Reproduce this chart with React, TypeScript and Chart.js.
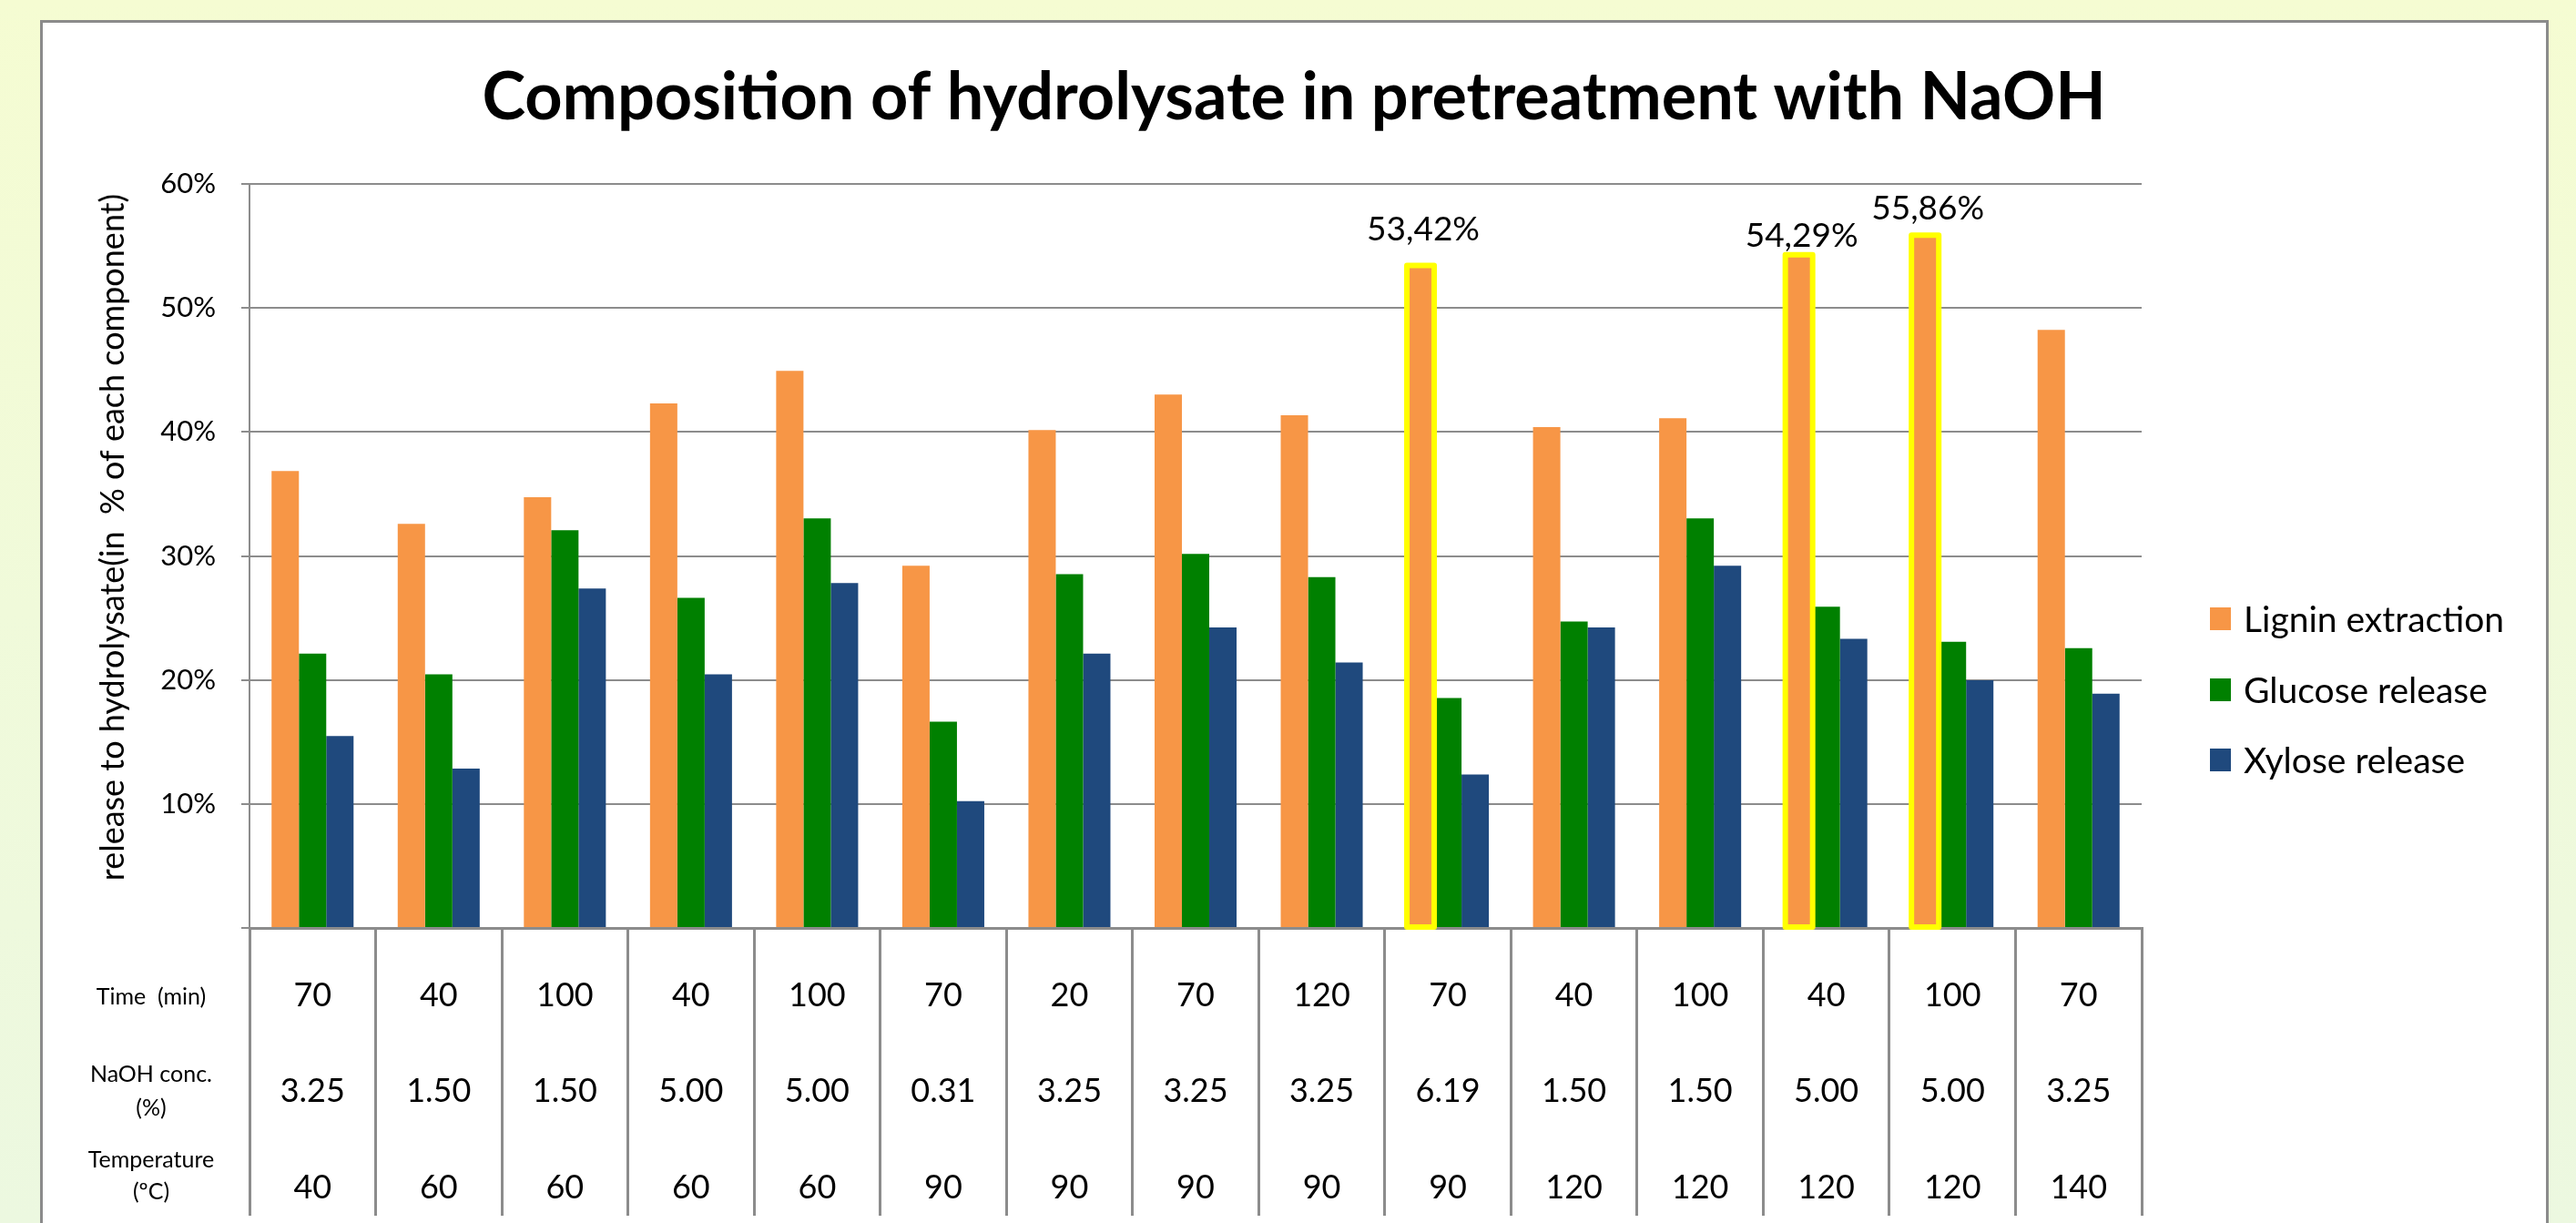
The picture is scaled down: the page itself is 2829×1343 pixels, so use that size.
import React, { useEffect, useRef } from 'react';
import { Chart, registerables } from 'chart.js';

Chart.register(...registerables);

// ---------- data ----------
const runs = ['1', '2', '3', '4', '5', '6', '7', '8', '9', '10', '11', '12', '13', '14', '15'];
const seriesNames = ['Lignin extraction', 'Glucose release', 'Xylose release'];
const lignin = [36.85, 32.59, 34.74, 42.3, 44.93, 29.21, 40.15, 43.02, 41.34, 53.42, 40.39, 41.11, 54.29, 55.86, 48.23];
const glucose = [22.12, 20.45, 32.07, 26.62, 33.03, 16.63, 28.53, 30.16, 28.29, 18.54, 24.71, 33.03, 25.91, 23.08, 22.56];
const xylose = [15.48, 12.85, 27.38, 20.45, 27.82, 10.23, 22.12, 24.23, 21.41, 12.38, 24.23, 29.21, 23.32, 19.98, 18.9];
const highlightedRuns = [9, 12, 13];
const highlightLabels = ['53,42%', '54,29%', '55,86%'];
const yTickValues = [0, 10, 20, 30, 40, 50, 60];
const timeRow = ['70', '40', '100', '40', '100', '70', '20', '70', '120', '70', '40', '100', '40', '100', '70'];
const naohRow = ['3.25', '1.50', '1.50', '5.00', '5.00', '0.31', '3.25', '3.25', '3.25', '6.19', '1.50', '1.50', '5.00', '5.00', '3.25'];
const tempRow = ['40', '60', '60', '60', '60', '90', '90', '90', '90', '90', '120', '120', '120', '120', '140'];
const rowLabels = [['Time  (min)'], ['NaOH conc.', '(%)'], ['Temperature', '(ºC)']];
const titleText = 'Composition of hydrolysate in pretreatment with NaOH';
const yTitleText = 'release to hydrolysate(in  % of each component)';

// ---------- styles ----------
const COLORS = ['#F79646', '#008000', '#1F497D'];
const GRID = '#8C8C8C';
const FONT = 'Lato, Carlito, Calibri, sans-serif';

const overlayPlugin = {
  id: 'overlay',
  afterDatasetsDraw(chart: any) {
    const ctx = chart.ctx;
    const meta = chart.getDatasetMeta(0);
    const lifts = [28, 9, 17];
    ctx.save();
    highlightedRuns.forEach((idx, k) => {
      const bar = meta.data[idx];
      const p = bar.getProps(['x', 'y', 'base', 'width'], true);
      ctx.strokeStyle = '#FFFF00';
      ctx.lineWidth = 6;
      ctx.lineJoin = 'round';
      ctx.strokeRect(p.x - p.width / 2, p.y, p.width, p.base - p.y);
      ctx.fillStyle = '#000';
      ctx.font = `37px ${FONT}`;
      ctx.textAlign = 'center';
      ctx.textBaseline = 'alphabetic';
      ctx.fillText(highlightLabels[k], p.x + 3, p.y - lifts[k]);
    });
    ctx.restore();
  },
  afterDraw(chart: any) {
    const ctx = chart.ctx;
    const xs = chart.scales.x;
    ctx.save();
    ctx.fillStyle = '#000';
    // title
    ctx.font = `bold 72px ${FONT}`;
    ctx.textAlign = 'center';
    ctx.textBaseline = 'alphabetic';
    ctx.fillText(titleText, 1421, 131);
    // y title
    ctx.save();
    ctx.translate(136, 590);
    ctx.rotate(-Math.PI / 2);
    ctx.font = `36px ${FONT}`;
    ctx.fillText(yTitleText, 0, 0);
    ctx.restore();
    // legend
    const legendY = [679, 757, 834];
    seriesNames.forEach((name, i) => {
      ctx.fillStyle = COLORS[i];
      ctx.fillRect(2427, legendY[i] - 12, 23, 25);
      ctx.fillStyle = '#000';
      ctx.font = `39px ${FONT}`;
      ctx.textAlign = 'left';
      ctx.fillText(name, 2464, legendY[i] + 15);
    });
    // table
    ctx.textAlign = 'center';
    ctx.font = `25px ${FONT}`;
    const labelBase = [[1103], [1188, 1225], [1282, 1317]];
    rowLabels.forEach((lines, r) => {
      lines.forEach((t, j) => ctx.fillText(t, 166, labelBase[r][j]));
    });
    ctx.font = `36px ${FONT}`;
    const rows = [timeRow, naohRow, tempRow];
    const rowBase = [1105, 1210, 1316];
    rows.forEach((row, r) => {
      row.forEach((v, i) => {
        ctx.fillText(v, xs.getPixelForValue(i), rowBase[r]);
      });
    });
    ctx.restore();
  },
};

export default function App() {
  const ref = useRef<HTMLCanvasElement>(null);
  useEffect(() => {
    document.body.style.margin = '0';
    document.body.style.overflow = 'hidden';
    if (!ref.current) return;
    const chart = new Chart(ref.current, {
      type: 'bar',
      data: {
        labels: runs,
        datasets: [
          { label: seriesNames[0], data: lignin, backgroundColor: COLORS[0] },
          { label: seriesNames[1], data: glucose, backgroundColor: COLORS[1] },
          { label: seriesNames[2], data: xylose, backgroundColor: COLORS[2] },
        ],
      },
      options: {
        responsive: false,
        animation: false,
        events: [],
        layout: { padding: { left: 0, top: 202, right: 477, bottom: 0 } },
        datasets: { bar: { categoryPercentage: 0.65, barPercentage: 1.0 } },
        plugins: { legend: { display: false }, title: { display: false }, tooltip: { enabled: false } },
        scales: {
          x: {
            position: 'bottom',
            grid: {
              display: true,
              drawOnChartArea: false,
              drawTicks: true,
              tickLength: 316,
              color: GRID,
              lineWidth: 3,
              offset: true,
            },
            border: { display: true, color: GRID, width: 3 },
            ticks: { display: false },
            afterFit: (s: any) => {
              s.height = 324;
            },
          },
          y: {
            min: 0,
            max: 60,
            afterBuildTicks: (s: any) => {
              s.ticks = yTickValues.map((v) => ({ value: v }));
            },
            grid: { color: GRID, lineWidth: 2, tickLength: 9, drawTicks: true },
            border: { display: true, color: GRID, width: 2 },
            ticks: {
              padding: 28,
              color: '#000',
              font: { family: FONT, size: 31 },
              callback: (v: any) => (Number(v) === 0 ? '' : `${v}%`),
            },
            afterFit: (s: any) => {
              s.width = 274;
            },
          },
        },
      },
      plugins: [overlayPlugin],
    });
    return () => chart.destroy();
  }, []);

  return (
    <div
      style={{
        position: 'relative',
        width: 2829,
        height: 1343,
        overflow: 'hidden',
        background: 'linear-gradient(to bottom, #F5FCD2 0%, #F0FADA 50%, #ECF8E0 100%)',
      }}
    >
      <div
        style={{
          position: 'absolute',
          left: 44,
          top: 22,
          width: 2755,
          height: 1400,
          background: '#FFFFFF',
          border: '3px solid #8B8B8B',
          boxSizing: 'border-box',
        }}
      />
      <canvas ref={ref} width={2829} height={1343} style={{ position: 'absolute', left: 0, top: 0 }} />
    </div>
  );
}
